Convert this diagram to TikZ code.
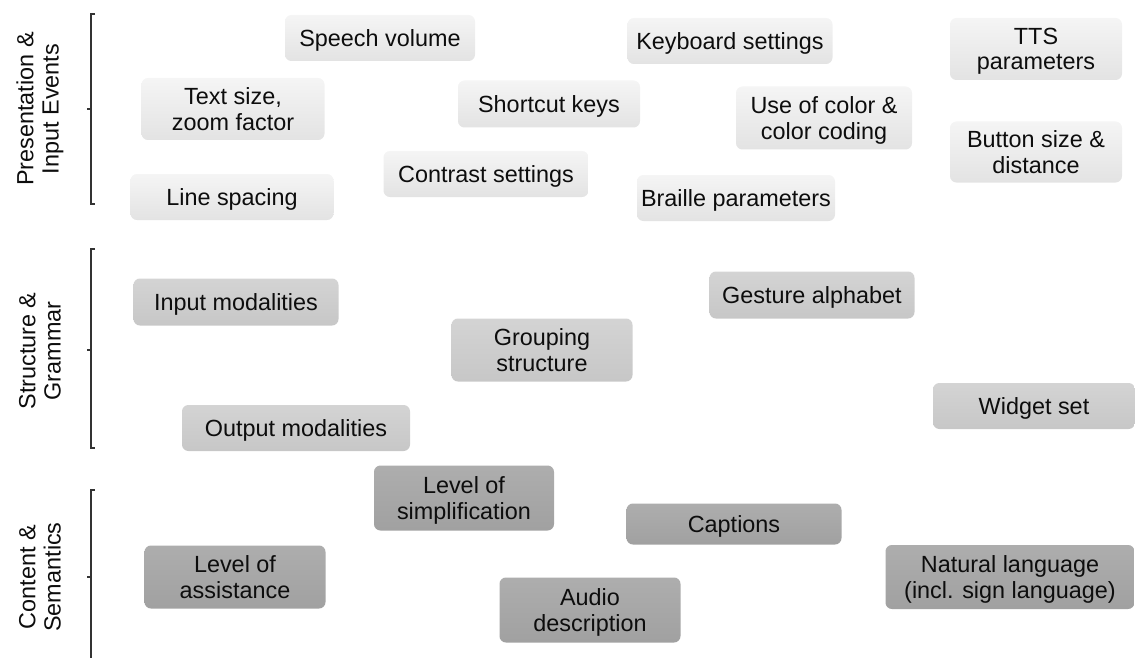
\documentclass[tikz,border=0pt]{standalone}
\usepackage{fontspec}
\setmainfont{Liberation Sans}
\begin{document}
\begin{tikzpicture}[x=0.5pt,y=-0.5pt,
  font=\fontsize{11.7pt}{12.6pt}\selectfont,
  item/.style={rounded corners=3.2pt, align=center, inner sep=0pt,
    text depth=0pt, text=black!95, shading=axis, shading angle=0},
  lightbox/.style={item, top color=black!4, bottom color=black!11},
  midbox/.style={item, top color=black!17, bottom color=black!22},
  darkbox/.style={item, top color=black!32, bottom color=black!37},
  grouplabel/.style={rotate=90, align=center, text=black!95},
  brace/.style={draw=black!80, line width=0.6pt}]
\useasboundingbox (0,0) rectangle (1135,658);

% presentation & input events
\node[lightbox, minimum width=95pt, minimum height=23pt] (speech) at (380,38) {Speech volume};
\node[lightbox, minimum width=102.5pt, minimum height=23pt] (keyboard) at (730,41) {Keyboard settings};
\node[lightbox, minimum width=86pt, minimum height=31pt] (tts) at (1036,49) {TTS\\parameters};
\node[lightbox, minimum width=91.5pt, minimum height=31pt] (textsize) at (233,109) {Text size,\\zoom factor};
\node[lightbox, minimum width=91pt, minimum height=23.5pt] (shortcut) at (549,104) {Shortcut keys};
\node[lightbox, minimum width=88pt, minimum height=31.5pt] (color) at (824,118) {Use of color \&\\color coding};
\node[lightbox, minimum width=86pt, minimum height=30.5pt] (button) at (1036,152) {Button size \&\\distance};
\node[lightbox, minimum width=102.5pt, minimum height=23pt] (contrast) at (486,174) {Contrast settings};
\node[lightbox, minimum width=101.5pt, minimum height=23pt] (linesp) at (232,197) {Line spacing};
\node[lightbox, minimum width=99pt, minimum height=23pt] (braille) at (736,198) {Braille parameters};

% structure & grammar
\node[midbox, minimum width=102.5pt, minimum height=23.5pt] (inmod) at (236,302) {Input modalities};
\node[midbox, minimum width=102.5pt, minimum height=23.5pt] (gesture) at (812,295) {Gesture alphabet};
\node[midbox, minimum width=90.5pt, minimum height=31.5pt] (grouping) at (542,350) {Grouping\\structure};
\node[midbox, minimum width=101pt, minimum height=23pt] (widget) at (1034,406) {Widget set};
\node[midbox, minimum width=114pt, minimum height=23pt] (outmod) at (296,428) {Output modalities};

% content & semantics
\node[darkbox, minimum width=90pt, minimum height=32.5pt] (simpl) at (464,498) {Level of\\simplification};
\node[darkbox, minimum width=107.5pt, minimum height=20.5pt] (captions) at (734,524) {Captions};
\node[darkbox, minimum width=90.5pt, minimum height=31.5pt] (assist) at (235,577) {Level of\\assistance};
\node[darkbox, minimum width=90.5pt, minimum height=32.5pt] (audio) at (590,610) {Audio\\description};
\node[darkbox, minimum width=124.5pt, minimum height=32pt] (natural) at (1010,577) {Natural language\\(incl. sign language)};

% group labels
\node[grouplabel] (gpres) at (40,109) {Presentation \&\\Input Events};
\node[grouplabel] (gstruct) at (40,351) {Structure \&\\Grammar};
\node[grouplabel] (gcont) at (40,577) {Content \&\\Semantics};

% brackets
\draw[brace] (95,14) -- (91,14) -- (91,204) -- (95,204);
\draw[brace] (91,109) -- (87,109);
\draw[brace] (95,249) -- (91,249) -- (91,448) -- (95,448);
\draw[brace] (91,350) -- (87,350);
\draw[brace] (95,490) -- (91,490) -- (91,658);
\draw[brace] (91,577) -- (87,577);
\end{tikzpicture}
\end{document}
